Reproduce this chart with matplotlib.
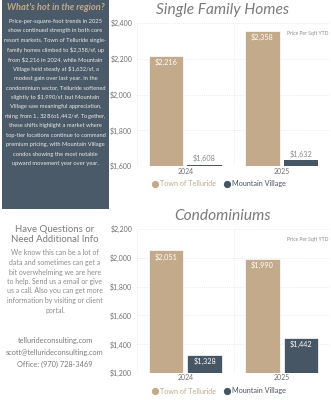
import matplotlib
matplotlib.use("Agg")
from matplotlib import pyplot as plt
from matplotlib.lines import Line2D
from matplotlib.patches import Rectangle

years = ["2024", "2025"]
series = ["Town of Telluride", "Mountain Village"]
sfh_telluride = [2216, 2358]
sfh_mountain = [1608, 1632]
condo_telluride = [2051, 1990]
condo_mountain = [1328, 1442]
sfh_ticks = [1600, 1800, 2000, 2200, 2400]
condo_ticks = [1200, 1400, 1600, 1800, 2000, 2200]

side_title = "What's hot in the region?"
side_text = [
    "Price-per-square-foot trends in 2025",
    "show continued strength in both core",
    "resort markets. Town of Telluride single-",
    "family homes climbed to $2,358/sf, up",
    "from $2,216 in 2024, while Mountain",
    "Village held steady at $1,632/sf, a",
    "modest gain over last year. In the",
    "condominium sector, Telluride softened",
    "slightly to $1,990/sf, but Mountain",
    "Village saw meaningful appreciation,",
    "rising from $1,328 to $1,442/sf. Together,",
    "these shifts highlight a market where",
    "top-tier locations continue to command",
    "premium pricing, with Mountain Village",
    "condos showing the most notable",
    "upward movement year over year.",
]
contact_title = ["Have Questions or", "Need Additional Info"]
contact_text = [
    "We know this can be a lot of",
    "data and sometimes can get a",
    "bit overwhelming we are here",
    "to help. Send us a email or give",
    "us a call. Also you can get more",
    "information by visiting or client",
    "portal.",
]
contact_lines = ["tellurideconsulting.com",
                 "scott@tellurideconsulting.com",
                 "Office: (970) 728-3469"]

TAN = "#c2aa8a"
SLATE = "#475664"
PANEL = "#4b5a68"
GRAY = "#7b7b7b"

plt.rcParams['font.family'] = ['Lato', 'DejaVu Sans']

W, H = 331, 400
fig = plt.figure(figsize=(W/100, H/100), dpi=100)
fig.patch.set_facecolor("white")

def px(x, y):
    return x/W, 1 - y/H

# left dark panel
fig.patches.append(Rectangle(px(2, 209), 107/W, 209/H, transform=fig.transFigure,
                             facecolor=PANEL, edgecolor="none", zorder=0))
fig.text(*px(56, 7), side_title, color=TAN, fontsize=6.7, fontweight="bold",
         fontstyle="italic", ha="center", va="center")
for i, line in enumerate(side_text):
    fig.text(*px(55.5, 21 + i*9.53), line, color="#eceae6", fontsize=4.15,
             ha="center", va="center")

for i, line in enumerate(contact_title):
    fig.text(*px(55, 229 + i*10), line, color=GRAY, fontsize=6.9,
             ha="center", va="center")
for i, line in enumerate(contact_text):
    fig.text(*px(55, 253 + i*9.5), line, color="#8c8c8c", fontsize=5.0,
             ha="center", va="center")
for i, line in enumerate(contact_lines):
    fig.text(*px(55, 341 + i*11.5), line, color=GRAY, fontsize=5.3,
             ha="center", va="center")


def draw_chart(top, bottom, title, title_y, tan_vals, dark_vals, ticks, legend_y, cat_y):
    ax = fig.add_axes([137/W, 1 - bottom/H, 193/W, (bottom - top)/H])
    x = list(range(len(years)))
    rng = ticks[-1] - ticks[0]
    b1 = ax.bar([i - 0.2 for i in x], [v - ticks[0] for v in tan_vals], 0.36,
                bottom=ticks[0], color=TAN, zorder=3)
    b2 = ax.bar([i + 0.2 for i in x], [v - ticks[0] for v in dark_vals], 0.36,
                bottom=ticks[0], color=SLATE, zorder=3)
    for bar in list(b1) + list(b2):
        if bar.get_height() / rng > 0.05:
            bar.set_edgecolor("white")
            bar.set_linewidth(0.5)
    ax.set_ylim(ticks[0], ticks[-1])
    ax.set_xlim(-0.5, 1.5)
    ax.set_yticks(ticks)
    ax.set_yticklabels(["${:,}".format(t) for t in ticks])
    ax.set_xticks(x)
    ax.set_xticklabels([])
    for s in ax.spines.values():
        s.set_visible(False)
    ax.tick_params(axis="both", length=0, labelsize=5.0, colors="#707070", pad=3.5)
    for t in ticks[1:]:
        ax.axhline(t, color="#d8d8d8", linewidth=0.5, linestyle=(0, (1, 2)), zorder=1)
    ax.axhline(ticks[0], color="#e0e0e0", linewidth=0.6, zorder=1)
    for xv in [-0.5, 0.5, 1.5]:
        ax.axvline(xv, color="#d8d8d8", linewidth=0.5, linestyle=(0, (1, 2)), zorder=1)
    for bars, vals in [(b1, tan_vals), (b2, dark_vals)]:
        for bar, v in zip(bars, vals):
            cx = bar.get_x() + bar.get_width()/2
            if (v - ticks[0]) / rng < 0.08:
                ax.annotate("${:,}".format(v), (cx, v), xytext=(0, 2.0),
                            textcoords="offset points", ha="center", va="bottom",
                            fontsize=5.2, color="#8a8a8a")
            else:
                ax.annotate("${:,}".format(v), (cx, v), xytext=(0, -4.6),
                            textcoords="offset points", ha="center", va="center",
                            fontsize=5.2, color="white")
    ax.text(0.99, 0.93, "Price Per Sqft YTD", transform=ax.transAxes, ha="right",
            va="center", fontsize=3.6, color="#8a8a8a")
    for i, yr in enumerate(years):
        fig.text(ax.transData.transform((i, 0))[0]/W, 1 - cat_y/H, yr, ha="center",
                 va="center", fontsize=5.0, color="#707070")
    fig.text(*px(223, title_y), title, fontsize=11.2, fontstyle="italic", color=GRAY,
             ha="center", va="center")
    # legend
    for sx, lab, col, tcol in [(155, series[0], TAN, TAN), (227, series[1], SLATE, "#4a5561")]:
        fig.lines.append(Line2D([sx/W], [1 - legend_y/H], marker="o", markersize=4.2,
                                color=col, transform=fig.transFigure, linestyle="none"))
        fig.text(*px(sx + 5, legend_y), lab, fontsize=5.2, color=tcol, ha="left",
                 va="center")
    return ax


draw_chart(23, 166, "Single Family Homes", 10, sfh_telluride, sfh_mountain,
           sfh_ticks, 183.5, 172)
draw_chart(229, 373, "Condominiums", 216, condo_telluride, condo_mountain,
           condo_ticks, 391, 378)

fig.savefig("out.png", dpi=100)
